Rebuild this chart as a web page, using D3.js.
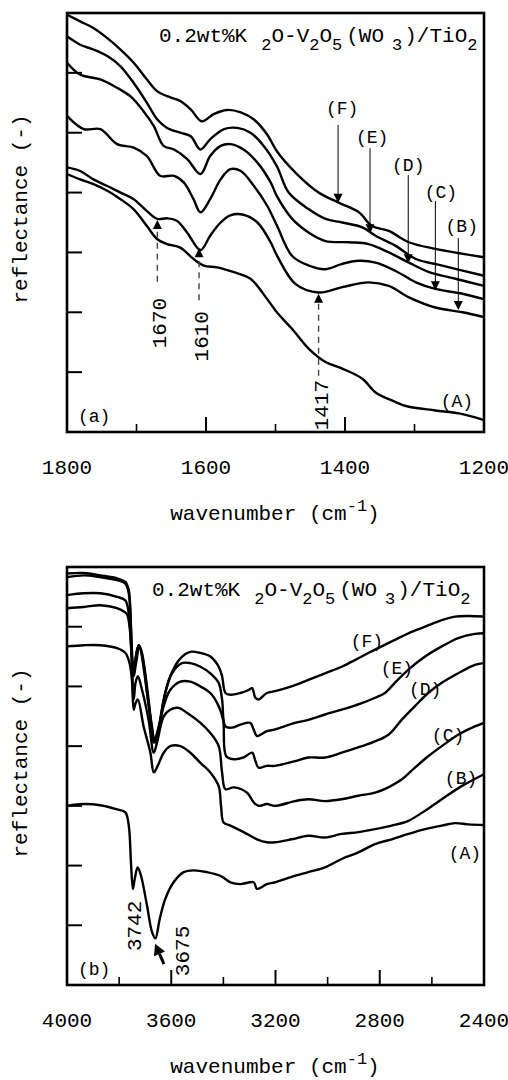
<!DOCTYPE html>
<html>
<head>
<meta charset="utf-8">
<script src="https://cdn.jsdelivr.net/npm/d3@7"></script>
<style>
  body { margin: 0; background: #fff; }
  text { font-family: "Liberation Mono", "DejaVu Sans Mono", monospace; fill: #000; }
</style>
</head>
<body>
<div id="chart"></div>
<script>
// ---- data (wavenumber cm-1, reflectance in arbitrary units) ----
const topMajor = [1800, 1600, 1400, 1200];
const topMinor = [1700, 1500, 1300];
const botMajor = [4000, 3600, 3200, 2800, 2400];
const botMinor = [3800, 3400, 3000, 2600];
const yTicks = [1, 2, 3, 4, 5, 6];

const topA = [[1800,4.31],[1781,4.22],[1762,4.14],[1742,4.03],[1723,3.89],[1704,3.72],[1685,3.44],[1670,3.22],[1656,3.14],[1637,3.08],[1618,2.89],[1603,2.78],[1584,2.75],[1560,2.67],[1536,2.56],[1512,2.22],[1498,2.00],[1476,1.72],[1452,1.39],[1428,1.17],[1404,1.06],[1375,0.89],[1356,0.66],[1327,0.50],[1311,0.43],[1270,0.36],[1236,0.31],[1200,0.20]];
const topB = [[1800,4.42],[1781,4.36],[1762,4.22],[1742,4.11],[1723,4.00],[1704,3.89],[1685,3.69],[1670,3.56],[1656,3.57],[1642,3.53],[1627,3.33],[1608,3.04],[1594,3.28],[1579,3.50],[1565,3.62],[1546,3.63],[1526,3.50],[1507,3.17],[1498,2.95],[1471,2.47],[1438,2.33],[1404,2.42],[1366,2.50],[1337,2.44],[1308,2.25],[1270,2.08],[1231,2.00],[1200,1.92]];
const topC = [[1800,5.28],[1776,5.06],[1752,5.06],[1728,4.81],[1704,4.75],[1685,4.61],[1666,4.28],[1646,4.28],[1632,4.17],[1618,3.89],[1608,3.67],[1594,3.89],[1579,4.22],[1565,4.39],[1550,4.36],[1531,4.11],[1512,3.78],[1498,3.45],[1476,2.94],[1452,2.78],[1428,2.72],[1404,2.81],[1380,2.86],[1356,2.83],[1327,2.69],[1298,2.50],[1270,2.39],[1231,2.31],[1200,2.22]];
const topD = [[1800,6.17],[1781,5.97],[1752,5.89],[1728,5.75],[1709,5.61],[1690,5.36],[1675,5.11],[1661,4.78],[1646,4.72],[1627,4.56],[1608,4.31],[1594,4.61],[1579,4.78],[1565,4.81],[1546,4.72],[1526,4.50],[1507,4.17],[1498,3.94],[1476,3.56],[1452,3.33],[1428,3.19],[1394,3.17],[1366,3.14],[1337,3.00],[1308,2.83],[1279,2.67],[1241,2.56],[1200,2.44]];
const topE = [[1800,6.61],[1781,6.47],[1762,6.39],[1742,6.28],[1723,6.11],[1704,5.83],[1685,5.50],[1670,5.22],[1656,5.08],[1637,5.00],[1622,4.94],[1608,4.72],[1594,4.89],[1574,5.06],[1555,5.08],[1536,5.00],[1517,4.78],[1498,4.44],[1481,4.00],[1452,3.72],[1428,3.56],[1404,3.50],[1375,3.42],[1356,3.28],[1327,3.11],[1298,2.89],[1260,2.78],[1200,2.61]];
const topF = [[1800,6.97],[1781,6.86],[1762,6.75],[1742,6.58],[1723,6.39],[1704,6.17],[1685,5.89],[1670,5.69],[1656,5.61],[1637,5.53],[1622,5.39],[1606,5.19],[1589,5.31],[1570,5.38],[1550,5.34],[1531,5.22],[1512,4.97],[1498,4.69],[1471,4.33],[1438,4.00],[1409,3.83],[1380,3.67],[1361,3.44],[1337,3.36],[1308,3.17],[1270,3.06],[1200,2.92]];

const botA = [[4000,3.00],[3936,3.03],[3872,3.01],[3808,2.94],[3776,2.89],[3763,2.67],[3754,2.00],[3747,1.61],[3740,1.78],[3729,1.97],[3716,1.83],[3693,1.33],[3674,0.89],[3661,0.78],[3644,1.11],[3623,1.44],[3591,1.72],[3552,1.89],[3514,1.92],[3463,1.89],[3412,1.83],[3373,1.72],[3335,1.69],[3284,1.72],[3271,1.61],[3233,1.69],[3202,1.72],[3138,1.81],[3074,1.89],[3010,1.97],[2946,2.11],[2882,2.22],[2818,2.36],[2754,2.44],[2690,2.53],[2626,2.61],[2562,2.67],[2511,2.71],[2460,2.69],[2400,2.68]];
const botB = [[4000,5.67],[3936,5.69],[3872,5.69],[3808,5.64],[3776,5.56],[3760,5.39],[3751,5.11],[3744,4.61],[3737,4.72],[3728,4.78],[3706,4.33],[3680,3.89],[3667,3.56],[3652,3.67],[3629,3.89],[3604,4.00],[3565,4.00],[3527,3.89],[3488,3.72],[3450,3.56],[3418,3.33],[3409,3.00],[3399,2.72],[3373,2.67],[3322,2.56],[3271,2.44],[3233,2.39],[3202,2.39],[3138,2.44],[3074,2.50],[3010,2.47],[2946,2.53],[2882,2.56],[2818,2.61],[2754,2.67],[2690,2.75],[2626,2.92],[2562,3.11],[2486,3.33],[2400,3.53]];
const botC = [[4000,6.31],[3936,6.33],[3872,6.36],[3808,6.31],[3772,6.22],[3760,6.00],[3751,5.39],[3744,4.78],[3737,5.06],[3728,5.17],[3712,4.94],[3687,4.44],[3667,3.89],[3652,4.11],[3629,4.50],[3604,4.61],[3572,4.64],[3540,4.56],[3488,4.39],[3450,4.22],[3418,4.00],[3405,3.56],[3392,3.28],[3360,3.31],[3309,3.22],[3284,3.06],[3265,3.00],[3233,3.03],[3202,3.00],[3125,3.08],[3074,3.11],[3010,3.08],[2946,3.11],[2882,3.17],[2818,3.22],[2767,3.31],[2716,3.44],[2665,3.64],[2614,3.83],[2562,4.00],[2499,4.19],[2435,4.33],[2400,4.39]];
const botD = [[4000,6.53],[3936,6.56],[3872,6.56],[3808,6.50],[3776,6.44],[3763,6.22],[3753,5.61],[3744,5.17],[3735,5.39],[3722,5.67],[3703,5.22],[3683,4.56],[3667,4.06],[3652,4.22],[3629,4.67],[3604,4.94],[3565,5.08],[3527,5.08],[3488,5.00],[3450,4.89],[3418,4.67],[3401,4.44],[3389,3.83],[3360,3.78],[3322,3.81],[3290,3.89],[3277,3.75],[3265,3.64],[3233,3.67],[3202,3.67],[3125,3.75],[3074,3.81],[3010,3.81],[2946,3.89],[2869,4.00],[2818,4.08],[2767,4.19],[2716,4.44],[2665,4.67],[2614,4.89],[2562,5.06],[2499,5.22],[2435,5.36],[2400,5.39]];
const botE = [[4000,6.83],[3936,6.86],[3872,6.83],[3808,6.78],[3776,6.72],[3763,6.56],[3754,5.89],[3747,5.28],[3738,5.44],[3725,5.69],[3706,5.39],[3687,4.78],[3670,4.17],[3661,4.06],[3644,4.39],[3623,4.89],[3597,5.22],[3559,5.39],[3527,5.39],[3488,5.33],[3450,5.22],[3418,5.06],[3405,4.78],[3392,4.33],[3367,4.31],[3335,4.36],[3297,4.39],[3284,4.28],[3271,4.17],[3233,4.25],[3202,4.28],[3125,4.39],[3074,4.44],[3010,4.53],[2946,4.61],[2869,4.72],[2818,4.81],[2780,4.89],[2742,5.06],[2690,5.28],[2626,5.50],[2562,5.67],[2499,5.81],[2435,5.88],[2400,5.89]];
const botF = [[4000,6.89],[3936,6.90],[3872,6.86],[3808,6.81],[3776,6.75],[3763,6.61],[3757,6.28],[3751,5.61],[3744,5.22],[3738,5.44],[3725,5.69],[3712,5.56],[3693,4.89],[3674,4.33],[3665,4.11],[3648,4.33],[3629,4.78],[3604,5.17],[3565,5.47],[3527,5.58],[3488,5.56],[3450,5.50],[3418,5.33],[3405,5.17],[3392,4.89],[3373,4.86],[3335,4.89],[3303,4.94],[3290,4.97],[3277,4.81],[3265,4.78],[3233,4.89],[3202,4.92],[3138,5.00],[3074,5.11],[3010,5.22],[2946,5.33],[2895,5.44],[2844,5.56],[2793,5.67],[2742,5.78],[2690,5.89],[2626,6.00],[2562,6.11],[2511,6.17],[2460,6.18],[2400,6.17]];

// curve letters in (a): label spot and arrow from tail to tip
const topLetters = [
  { name: "(F)", w: 1404, v: 5.41, aw: 1410, tail: 5.13, tip: 3.83 },
  { name: "(E)", w: 1361, v: 4.94, aw: 1364, tail: 4.74, tip: 3.32 },
  { name: "(D)", w: 1309, v: 4.46, aw: 1309, tail: 4.29, tip: 2.82 },
  { name: "(C)", w: 1262, v: 4.01, aw: 1270, tail: 3.86, tip: 2.37 },
  { name: "(B)", w: 1232, v: 3.44, aw: 1237, tail: 3.24, tip: 2.04 },
  { name: "(A)", w: 1239, v: 0.53 }
];
// peak markers in (a): dashed arrow pointing up
const topPeaks = [
  { label: "1670", w: 1670, tail: 2.51, tip: 3.54, lv: 1.82 },
  { label: "1610", w: 1610, tail: 2.20, tip: 3.07, lv: 1.60 },
  { label: "1417", w: 1438, tail: 0.94, tip: 2.31, lv: 0.45 }
];
const botLetters = [
  { name: "(F)", w: 2849, v: 5.76 },
  { name: "(E)", w: 2734, v: 5.31 },
  { name: "(D)", w: 2626, v: 4.97 },
  { name: "(C)", w: 2538, v: 4.20 },
  { name: "(B)", w: 2488, v: 3.47 },
  { name: "(A)", w: 2473, v: 2.21 }
];
const botPeaks = [
  { label: "3742", w: 3743, lv: 0.99 },
  { label: "3675", w: 3559, lv: 0.57, from: [3628, 0.35], to: [3662, 0.69] }
];

// ---- layout ----
const width = 508, height = 1080;
const svg = d3.select("#chart").append("svg")
  .attr("width", width).attr("height", height)
  .style("background-color", "#fff");

function drawPanel(p) {
  const x = d3.scaleLinear().domain(p.domain).range([67, 484]);
  const y = d3.scaleLinear().domain([0, 7]).range([p.bottom, p.top]);
  const g = svg.append("g");

  // curves
  const line = d3.line().x(d => x(d[0])).y(d => y(d[1])).curve(d3.curveCatmullRom.alpha(0.5));
  g.selectAll("path.spec")
    .data(p.curves)
    .join("path")
    .attr("class", "spec")
    .attr("d", line)
    .attr("fill", "none")
    .attr("stroke", "#000")
    .attr("stroke-width", 2.4)
    .attr("stroke-linejoin", "round");

  // frame
  g.append("rect")
    .attr("x", 67).attr("y", p.top)
    .attr("width", 417).attr("height", p.bottom - p.top)
    .attr("fill", "none").attr("stroke", "#000").attr("stroke-width", 2.6);

  // y ticks (inside, no labels)
  g.selectAll("line.yt").data(yTicks).join("line")
    .attr("x1", 67).attr("x2", 82)
    .attr("y1", d => y(d)).attr("y2", d => y(d))
    .attr("stroke", "#000").attr("stroke-width", 2);

  // x ticks
  g.selectAll("line.xmaj").data(p.major).join("line")
    .attr("x1", d => x(d)).attr("x2", d => x(d))
    .attr("y1", p.bottom).attr("y2", p.bottom - 15)
    .attr("stroke", "#000").attr("stroke-width", 2);
  g.selectAll("line.xmin").data(p.minor).join("line")
    .attr("x1", d => x(d)).attr("x2", d => x(d))
    .attr("y1", p.bottom).attr("y2", p.bottom - 8)
    .attr("stroke", "#000").attr("stroke-width", 1.6);
  g.selectAll("text.xl").data(p.major).join("text")
    .attr("x", d => x(d)).attr("y", p.bottom + 42)
    .attr("text-anchor", "middle")
    .style("font-size", "21px")
    .text(d => d);

  // axis titles
  const xt = g.append("text")
    .attr("x", 275).attr("y", p.bottom + 88)
    .attr("text-anchor", "middle")
    .style("font-size", "21px");
  xt.append("tspan").text("wavenumber (cm");
  xt.append("tspan").attr("dy", -9).style("font-size", "17px").text("-1");
  xt.append("tspan").attr("dy", 9).text(")");

  g.append("text")
    .attr("transform", `translate(27,${p.top + 196}) rotate(-90)`)
    .attr("text-anchor", "middle")
    .style("font-size", "21px")
    .text("reflectance (-)");

  // sample formula
  const t = g.append("text")
    .attr("x", p.titleX).attr("y", p.top + 29)
    .style("font-size", "21px");
  const sub = (s, dx) => t.append("tspan").attr("dx", dx).attr("dy", 8).style("font-size", "17px").text(s);
  const main = (s, dx) => t.append("tspan").attr("dx", dx).attr("dy", -8).text(s);
  t.append("tspan").text("0.2wt%K");
  sub("2", 14); main("O-V", 0); sub("2", 0); main("O", 0); sub("5", 0);
  main("(WO", 4); sub("3", 8); main(")/TiO", 2); sub("2", 0);

  // panel tag
  g.append("text")
    .attr("x", 78).attr("y", p.bottom - 10)
    .style("font-size", "18px")
    .text(p.tag);

  // curve letters
  g.selectAll("text.lt").data(p.letters).join("text")
    .attr("x", d => x(d.w)).attr("y", d => y(d.v))
    .attr("dy", "0.35em")
    .attr("text-anchor", "middle")
    .style("font-size", "18px")
    .text(d => d.name);

  return { g, x, y };
}

function headPath(px, py, dir, w, h) {
  // triangle with tip at (px,py); dir = -1 points up, 1 points down
  return `M${px},${py}L${px - w / 2},${py - dir * h}L${px + w / 2},${py - dir * h}Z`;
}

// ---- panel (a) ----
const a = drawPanel({
  top: 13, bottom: 432, domain: [1800, 1200],
  major: topMajor, minor: topMinor,
  curves: [topA, topB, topC, topD, topE, topF],
  letters: topLetters, tag: "(a)", titleX: 159
});

const arrowed = topLetters.filter(d => d.aw);
a.g.selectAll("line.la").data(arrowed).join("line")
  .attr("x1", d => a.x(d.aw)).attr("x2", d => a.x(d.aw))
  .attr("y1", d => a.y(d.tail)).attr("y2", d => a.y(d.tip) - 8)
  .attr("stroke", "#000").attr("stroke-width", 1);
a.g.selectAll("path.lh").data(arrowed).join("path")
  .attr("d", d => headPath(a.x(d.aw), a.y(d.tip), 1, 9, 9))
  .attr("fill", "#000");

a.g.selectAll("line.pk").data(topPeaks).join("line")
  .attr("x1", d => a.x(d.w)).attr("x2", d => a.x(d.w))
  .attr("y1", d => a.y(d.tail)).attr("y2", d => a.y(d.tip) + 8)
  .attr("stroke", "#444").attr("stroke-width", 1.4)
  .attr("stroke-dasharray", "6,5");
a.g.selectAll("path.pkh").data(topPeaks).join("path")
  .attr("d", d => headPath(a.x(d.w), a.y(d.tip), -1, 9, 9))
  .attr("fill", "#000");
a.g.selectAll("text.pkl").data(topPeaks).join("text")
  .attr("transform", d => `translate(${a.x(d.w) + 9},${a.y(d.lv)}) rotate(-90)`)
  .attr("text-anchor", "middle")
  .style("font-size", "21px")
  .text(d => d.label);

// ---- panel (b) ----
const b = drawPanel({
  top: 567, bottom: 985, domain: [4000, 2400],
  major: botMajor, minor: botMinor,
  curves: [botA, botB, botC, botD, botE, botF],
  letters: botLetters, tag: "(b)", titleX: 152
});

b.g.selectAll("text.pkl").data(botPeaks).join("text")
  .attr("transform", d => `translate(${b.x(d.w) + 7},${b.y(d.lv)}) rotate(-90)`)
  .attr("text-anchor", "middle")
  .style("font-size", "21px")
  .text(d => d.label);

const pointer = botPeaks.find(d => d.from);
const fx = b.x(pointer.from[0]), fy = b.y(pointer.from[1]);
const tx = b.x(pointer.to[0]), ty = b.y(pointer.to[1]);
const ang = Math.atan2(ty - fy, tx - fx);
const hl = 11, hw = 6;
const bx = tx - hl * Math.cos(ang), by = ty - hl * Math.sin(ang);
b.g.append("line")
  .attr("x1", fx).attr("y1", fy).attr("x2", bx).attr("y2", by)
  .attr("stroke", "#000").attr("stroke-width", 3);
b.g.append("path")
  .attr("d", `M${tx},${ty}L${bx - hw * Math.sin(ang)},${by + hw * Math.cos(ang)}L${bx + hw * Math.sin(ang)},${by - hw * Math.cos(ang)}Z`)
  .attr("fill", "#000");
</script>
</body>
</html>
